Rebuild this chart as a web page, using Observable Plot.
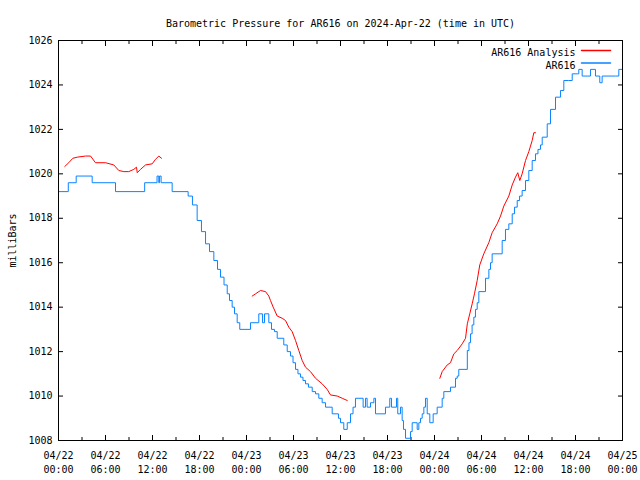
<!DOCTYPE html>
<html>
<head>
<meta charset="utf-8">
<script src="https://cdn.jsdelivr.net/npm/d3@7"></script>
<script src="https://cdn.jsdelivr.net/npm/@observablehq/plot@0.6"></script>
<style>
  html, body { margin: 0; padding: 0; background: #fff; }
</style>
</head>
<body>
<div id="chart"></div>
<script>
// ---- data (hours since 2024-04-22 00:00 UTC) ----
const titleText = "Barometric Pressure for AR616 on 2024-Apr-22 (time in UTC)";
const yLabel = "milliBars";
const seriesNames = ["AR616 Analysis", "AR616"];

const blueHours = [0, 1.25, 2.26, 4.3, 7.28, 11.0, 12.58, 12.8, 12.9, 13.1, 14.51, 16.55,
  17.1, 17.7, 18.25, 18.77, 19.28, 19.83, 20.3, 20.68, 21.13, 21.54, 21.83, 22.17, 22.47, 22.81, 23.14,
  24.51, 25.57, 26.04, 26.3, 26.85, 27.19, 27.57, 27.92, 28.76, 29.2, 29.62, 29.94, 30.26, 30.57, 30.89,
  31.21, 31.53, 31.91, 32.39, 32.81, 33.23, 33.66, 34.09, 34.94, 35.74, 36.0, 36.42, 36.86, 37.28, 37.6,
  37.91, 38.89, 39.19, 39.4, 39.83, 40.26, 40.47, 41.74, 42.29, 42.51, 43.15, 43.31, 43.66, 43.87, 44.04,
  44.3, 44.94, 45.15, 45.79, 46.0, 46.21, 46.43, 46.64, 46.85, 47.07, 47.4, 47.83, 48.34, 48.98, 49.19,
  50.04, 50.68, 50.9, 51.1, 52.19, 52.4, 52.6, 52.8, 53.02, 53.23, 53.45, 53.66, 54.51, 54.94, 55.15,
  55.36, 56.64, 57.06, 57.49, 57.92, 58.21, 58.56, 58.86, 59.19, 59.62, 60.04, 60.47, 60.89, 61.21,
  61.53, 61.75, 62.39, 62.81, 63.45, 64.09, 64.51, 65.14, 65.58, 66.22, 66.42, 66.85, 67.57, 67.91,
  68.55, 69.1, 69.4, 71.1, 71.53, 72];
const blueValues = [1019.2, 1019.6, 1019.9, 1019.6, 1019.2, 1019.6, 1019.9, 1019.6, 1019.9, 1019.6, 1019.2, 1019.0,
  1018.6, 1017.9, 1017.4, 1016.85, 1016.5, 1016.1, 1015.7, 1015.35, 1015.0, 1014.6, 1014.3, 1014.0, 1013.7, 1013.3, 1013.0,
  1013.3, 1013.7, 1013.3, 1013.7, 1013.3, 1013.0, 1012.9, 1012.6, 1012.3, 1012.0, 1011.8, 1011.5, 1011.2, 1011.0, 1010.85,
  1010.7, 1010.55, 1010.4, 1010.2, 1010.1, 1009.9, 1009.7, 1009.5, 1009.2, 1009.0, 1008.8, 1008.5, 1008.8, 1009.2, 1009.5,
  1009.9, 1009.5, 1009.9, 1009.5, 1009.7, 1009.9, 1009.2, 1009.5, 1009.9, 1009.5, 1009.9, 1009.2, 1009.5, 1008.9, 1008.5,
  1008.1, 1008.4, 1008.8, 1008.5, 1008.8, 1009.0, 1009.2, 1009.5, 1009.9, 1009.2, 1008.8, 1009.2, 1009.5, 1009.9, 1010.2,
  1010.4, 1010.8, 1010.9, 1011.2, 1012.05, 1012.4, 1012.8, 1013.2, 1013.55, 1013.9, 1014.2, 1014.7, 1015.3, 1015.7, 1016.0,
  1016.4, 1017.0, 1017.5, 1017.75, 1018.2, 1018.5, 1018.8, 1019.0, 1019.25, 1019.7, 1020.15, 1020.6, 1020.9, 1021.1,
  1021.3, 1021.65, 1022.25, 1022.9, 1023.45, 1023.75, 1024.2, 1024.2, 1024.5, 1024.5, 1024.7, 1024.4, 1024.4, 1024.7,
  1024.4, 1024.1, 1024.4, 1024.4, 1024.7, 1024.7];

const redHours1 = [0.8, 1.31, 1.83, 2.39, 3.45, 4.09, 4.72, 6.0, 7.06, 7.7, 8.34, 8.97, 9.61, 9.96, 10.05, 10.47, 11.11, 11.96, 12.38, 12.8, 13.15];
const redValues1 = [1020.33, 1020.5, 1020.7, 1020.75, 1020.8, 1020.8, 1020.5, 1020.5, 1020.4, 1020.15, 1020.1, 1020.1, 1020.2, 1020.3, 1020.05, 1020.2, 1020.4, 1020.45, 1020.65, 1020.8, 1020.7];
const redHours2 = [24.73, 25.15, 25.79, 26.43, 26.85, 27.06, 27.41, 27.92, 28.56, 28.98, 29.4, 29.83, 30.26, 30.68, 31.11, 31.53, 32.17, 32.81, 33.66, 34.3, 34.72, 35.58, 36.22, 36.86];
const redValues2 = [1014.5, 1014.6, 1014.75, 1014.7, 1014.5, 1014.3, 1014.0, 1013.6, 1013.5, 1013.4, 1013.1, 1012.9, 1012.5, 1012.05, 1011.6, 1011.3, 1011.1, 1010.8, 1010.55, 1010.3, 1010.05, 1010.0, 1009.9, 1009.8];
const redHours3 = [48.68, 48.98, 49.62, 50.04, 50.47, 50.9, 51.54, 51.96, 52.19, 52.5, 52.81, 53.1, 53.45, 53.78, 54.29, 54.93, 55.36, 56.0, 56.43, 56.85, 57.49, 57.92, 58.34, 58.63, 58.89, 59.19, 59.62, 60.04, 60.47, 60.68, 60.89];
const redValues3 = [1010.8, 1011.1, 1011.4, 1011.5, 1011.9, 1012.05, 1012.35, 1012.6, 1013.25, 1013.7, 1014.15, 1014.6, 1015.2, 1015.9, 1016.4, 1016.9, 1017.35, 1017.75, 1018.1, 1018.55, 1019.0, 1019.5, 1019.85, 1020.05, 1019.7, 1020.0, 1020.6, 1021.0, 1021.5, 1021.85, 1021.85];

const xTickHours = [0, 6, 12, 18, 24, 30, 36, 42, 48, 54, 60, 66, 72];
const xMinorTickHours = [3, 9, 15, 21, 27, 33, 39, 45, 51, 57, 63, 69];
const yTickValues = [1008, 1010, 1012, 1014, 1016, 1018, 1020, 1022, 1024, 1026];

// ---- build ----
const t0 = Date.UTC(2024, 3, 22);
const toDate = h => new Date(t0 + h * 3600e3);

const blue = blueHours.map((h, i) => ({t: toDate(h), v: blueValues[i]}));
const red = [
  ...redHours1.map((h, i) => ({t: toDate(h), v: redValues1[i], seg: 1})),
  ...redHours2.map((h, i) => ({t: toDate(h), v: redValues2[i], seg: 2})),
  ...redHours3.map((h, i) => ({t: toDate(h), v: redValues3[i], seg: 3}))
];
const xMajor = xTickHours.map(toDate);
const xMinor = xMinorTickHours.map(toDate);
const fmt = d3.utcFormat("%m/%d\n%H:%M");
const blank = () => "";
const RED = "#ff0000", BLUE = "#0a84ff";
const lineShape = {draw(context, l) { context.moveTo(0, 0); context.lineTo(0, -l); }};

const chart = Plot.plot({
  width: 640,
  height: 480,
  marginLeft: 58,
  marginRight: 18,
  marginTop: 40,
  marginBottom: 40,
  style: {fontFamily: "'DejaVu Sans Mono', monospace", fontSize: "10px", background: "#fff", color: "#000"},
  x: {type: "utc", domain: [toDate(0), toDate(72)]},
  y: {domain: [1008, 1026]},
  marks: [
    Plot.axisX(xMajor, {anchor: "bottom", tickSize: -5, tickFormat: blank, label: null}),
    Plot.axisX(xMajor, {anchor: "top", tickSize: -5, tickFormat: blank, label: null}),
    Plot.axisX(xMinor, {anchor: "bottom", tickSize: -3, tickFormat: blank, label: null}),
    Plot.axisX(xMinor, {anchor: "top", tickSize: -3, tickFormat: blank, label: null}),
    Plot.axisX(xMajor, {anchor: "bottom", tickSize: 0, tickPadding: 9, tickFormat: fmt, label: null, lineHeight: 1.4}),
    Plot.axisY(yTickValues, {anchor: "left", tickSize: -5, tickFormat: blank, label: null}),
    Plot.axisY(yTickValues, {anchor: "right", tickSize: -5, tickFormat: blank, label: null}),
    Plot.axisY(yTickValues, {anchor: "left", tickSize: 0, tickPadding: 6, tickFormat: d => String(d),
      label: yLabel, labelAnchor: "center", labelOffset: 50, labelArrow: "none"}),
    Plot.line(blue, {x: "t", y: "v", curve: "step-after", stroke: BLUE, strokeWidth: 1}),
    Plot.line(red, {x: "t", y: "v", z: "seg", stroke: RED, strokeWidth: 1}),
    Plot.frame({stroke: "#000"}),
    Plot.text([titleText], {frameAnchor: "top", dy: -21, fontSize: 10}),
    Plot.text([seriesNames[0]], {frameAnchor: "top-right", textAnchor: "end", dx: -47, dy: 8.5, fontSize: 10}),
    Plot.text([seriesNames[1]], {frameAnchor: "top-right", textAnchor: "end", dx: -47, dy: 21.5, fontSize: 10}),
    Plot.vector([0], {frameAnchor: "top-right", dx: -41, dy: 10, length: 29, rotate: 90, anchor: "start", stroke: RED, shape: lineShape}),
    Plot.vector([0], {frameAnchor: "top-right", dx: -41, dy: 22.5, length: 29, rotate: 90, anchor: "start", stroke: BLUE, shape: lineShape})
  ]
});
document.getElementById("chart").appendChild(chart);
</script>
</body>
</html>
